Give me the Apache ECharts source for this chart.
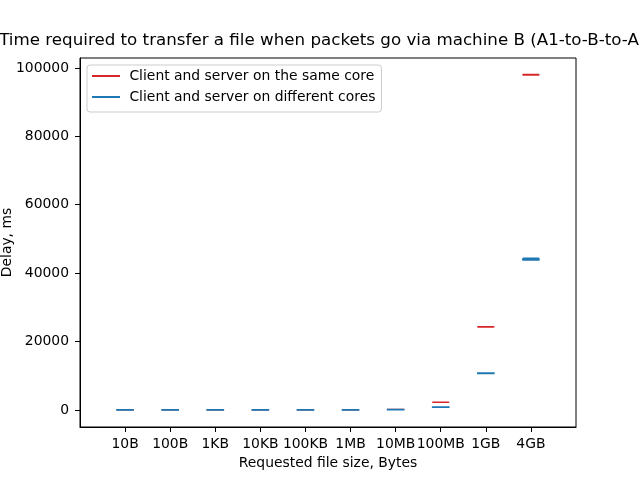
<!DOCTYPE html>
<html>
<head>
<meta charset="utf-8">
<script src="https://cdn.jsdelivr.net/npm/echarts@6/dist/echarts.min.js"></script>
<style>html,body{margin:0;padding:0;background:#fff}#c{width:640px;height:480px}</style>
</head>
<body>
<div id="c"></div>
<script>
// ---- data ----
var categories = ['10B', '100B', '1KB', '10KB', '100KB', '1MB', '10MB', '100MB', '1GB', '4GB'];
// box stats per category: [min, Q1, median, Q3, max] in ms
var sameCore = [
  [4, 4.5, 5, 5.5, 6],
  [4, 4.5, 5, 5.5, 6],
  [4, 4.5, 5, 5.5, 6],
  [5, 5.5, 6, 6.5, 7],
  [8, 9, 10, 11, 12],
  [23, 23.5, 24, 24.5, 25],
  [140, 145, 150, 155, 160],
  [2220, 2240, 2250, 2260, 2280],
  [24220, 24260, 24300, 24340, 24380],
  [97880, 97940, 98000, 98060, 98120]
];
var diffCores = [
  [3, 3.5, 4, 4.5, 5],
  [3, 3.5, 4, 4.5, 5],
  [3, 3.5, 4, 4.5, 5],
  [4, 4.5, 5, 5.5, 6],
  [5, 5.5, 6, 6.5, 7],
  [9, 9.5, 10, 10.5, 11],
  [78, 79, 80, 81, 82],
  [780, 785, 790, 795, 800],
  [10650, 10680, 10700, 10730, 10760],
  [43880, 43940, 44000, 44060, 44300]
];
var yTicks = [0, 20000, 40000, 60000, 80000, 100000];
var seriesNames = ['Client and server on the same core', 'Client and server on different cores'];
var colors = ['#d62728', '#1f77b4'];
var titleText = 'Time required to transfer a file when packets go via machine B (A1-to-B-to-A2)';

// padded axis (one empty slot each side, as in the reference x-limits)
var axisCats = [''].concat(categories, ['']);
function pad(arr) { return ['-'].concat(arr, ['-']); }

var FONT = 'DejaVu Sans';
function xAxisDef(show) {
  return {
    type: 'category', data: axisCats, boundaryGap: false, show: show,
    axisLine: { show: true, onZero: false, lineStyle: { color: '#000', width: 1 } },
    axisTick: { show: true, length: 5, lineStyle: { color: '#000' },
      interval: function (i, v) { return v !== ''; } },
    axisLabel: { interval: 0, hideOverlap: false, margin: 10, color: '#000', fontFamily: FONT, fontSize: 13.9 },
    splitLine: { show: false },
    name: show ? 'Requested file size, Bytes' : '', nameLocation: 'middle', nameGap: 29,
    nameMoveOverlap: false,
    nameTextStyle: { color: '#000', fontFamily: FONT, fontSize: 13.9 }
  };
}

var chart = echarts.init(document.getElementById('c'), null, { renderer: 'canvas' });
chart.setOption({
  animation: false,
  backgroundColor: '#fff',
  grid: { left: 80, right: 64, top: 58, bottom: 53, containLabel: false, outerBoundsMode: 'none',
    show: true, borderColor: '#000', borderWidth: 1, backgroundColor: 'transparent' },
  graphic: [{
    type: 'text', x: 327.6, y: 41, silent: true,
    style: { text: titleText, textAlign: 'center', textVerticalAlign: 'middle',
      fill: '#000', fontFamily: FONT, fontSize: 16.7 }
  }],
  legend: {
    orient: 'vertical', left: 87, top: 65,
    padding: [4, 6, 8, 5], itemGap: 7,
    itemWidth: 28, itemHeight: 2, icon: 'rect',
    itemStyle: { borderWidth: 0 },
    backgroundColor: '#fff', borderColor: '#cccccc', borderWidth: 1, borderRadius: 3,
    formatter: function (n) { return ' ' + n; },
    textStyle: { color: '#000', fontFamily: FONT, fontSize: 13.9 },
    data: [
      { name: seriesNames[0], itemStyle: { color: colors[0], borderWidth: 0 } },
      { name: seriesNames[1], itemStyle: { color: colors[1], borderWidth: 0 } }
    ]
  },
  xAxis: [xAxisDef(true), xAxisDef(false)],
  yAxis: {
    type: 'value', min: -5000, max: 102900,
    axisLine: { show: true, onZero: false, lineStyle: { color: '#000', width: 1 } },
    axisTick: { show: true, length: 5, lineStyle: { color: '#000' }, customValues: yTicks },
    axisLabel: { margin: 11, color: '#000', fontFamily: FONT, fontSize: 13.9, customValues: yTicks,
      formatter: function (v) { return String(v); } },
    splitLine: { show: false },
    name: 'Delay, ms', nameLocation: 'middle', nameGap: 66, nameMoveOverlap: false,
    nameTextStyle: { color: '#000', fontFamily: FONT, fontSize: 13.9 }
  },
  series: [
    { name: seriesNames[0], type: 'boxplot', xAxisIndex: 0, boxWidth: [16, 16],
      itemStyle: { color: colors[0], borderColor: colors[0], borderWidth: 1.2 },
      data: pad(sameCore) },
    { name: seriesNames[1], type: 'boxplot', xAxisIndex: 1, boxWidth: [16, 16],
      itemStyle: { color: colors[1], borderColor: colors[1], borderWidth: 1.7 },
      data: pad(diffCores) }
  ]
});
</script>
</body>
</html>
